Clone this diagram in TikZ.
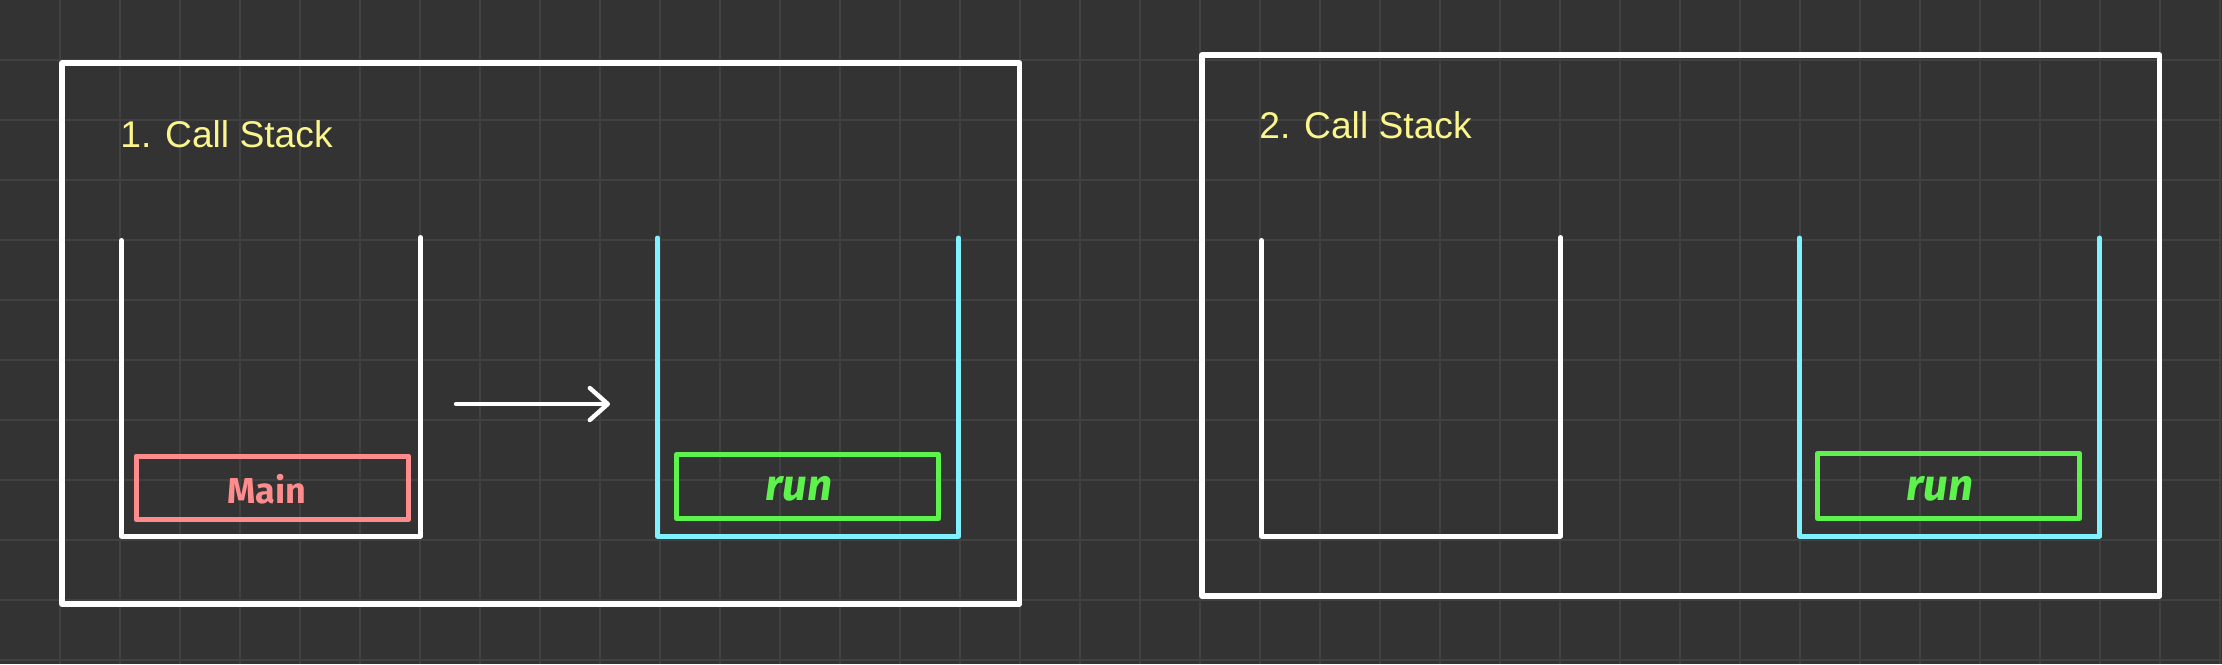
\documentclass[tikz,border=0pt]{standalone}
\usepackage{fontspec}
\setmainfont{Liberation Sans}
\newfontfamily\handfont{Fira Sans}
\usetikzlibrary{arrows.meta}
\definecolor{bgc}{HTML}{333333}
\definecolor{gridc}{HTML}{414141}
\definecolor{titlec}{HTML}{FAF58C}
\definecolor{mainc}{HTML}{FF8C8C}
\definecolor{runc}{HTML}{5EF24C}
\definecolor{cyanc}{HTML}{80F2FF}
\tikzset{
  frame/.style={draw=white, line width=2.8pt, line join=round},
  stackw/.style={draw=white, line width=2.5pt, line cap=round, line join=round},
  stackc/.style={draw=cyanc, line width=2.5pt, line cap=round, line join=round},
  title/.style={text=titlec, font=\fontsize{18.6pt}{20pt}\selectfont, anchor=base west, inner sep=0pt},
  framebox/.style={line width=2.5pt, line join=round, inner sep=0pt},
  lbl/.style={font=\handfont\bfseries\fontsize{18pt}{20pt}\selectfont, anchor=base, inner sep=0pt},
  arr/.style={draw=white, line width=2.2pt, line cap=round, -{Straight Barb[length=9pt, width=16pt, line cap=round, line join=round]}}
}
\begin{document}
\begin{tikzpicture}[x=0.5pt, y=-0.5pt]
\useasboundingbox[fill=bgc] (0,0) rectangle (2222,664);
% grid
\foreach \i in {60,120,...,2220} \draw[gridc, line width=1.1pt] (\i,0) -- (\i,664);
\foreach \j in {60,120,...,660} \draw[gridc, line width=1.1pt] (0,\j) -- (2222,\j);
% frames
\draw[frame] (62,63) rectangle (1019.5,604);
\draw[frame] (1202,55) rectangle (2159.5,596);
% titles
\node[title] (t1) at (120,147) {1. Call Stack};
\node[title] (t2) at (1259,138) {2. Call Stack};
% stacks
\draw[stackw] (121.5,240.5) -- (121.5,536) -- (420.5,536) -- (420.5,237.5);
\draw[stackc] (657.5,238) -- (657.5,536) -- (958.5,536) -- (958.5,238);
\draw[stackw] (1261.5,240.5) -- (1261.5,536) -- (1560.5,536) -- (1560.5,237.5);
\draw[stackc] (1799.5,238) -- (1799.5,536) -- (2099.5,536) -- (2099.5,238);
% boxes
\draw[framebox, draw=mainc] (136,456) rectangle (408.5,519.5);
\draw[framebox, draw=runc] (676.5,454.5) rectangle (938.5,518.5);
\draw[framebox, draw=runc] (1817.5,453.5) rectangle (2079.5,518.5);
\node[lbl, text=mainc] (main) at (267,503) {Main};
\node[lbl, text=runc, font=\handfont\bfseries\itshape\fontsize{22pt}{24pt}\selectfont] (run1) at (799,500) {run};
\node[lbl, text=runc, font=\handfont\bfseries\itshape\fontsize{22pt}{24pt}\selectfont] (run2) at (1940,500) {run};
% arrow
\coordinate (a1) at (456,404);
\coordinate (a2) at (610,404);
\draw[arr] (a1) -- (a2);
\end{tikzpicture}
\end{document}
